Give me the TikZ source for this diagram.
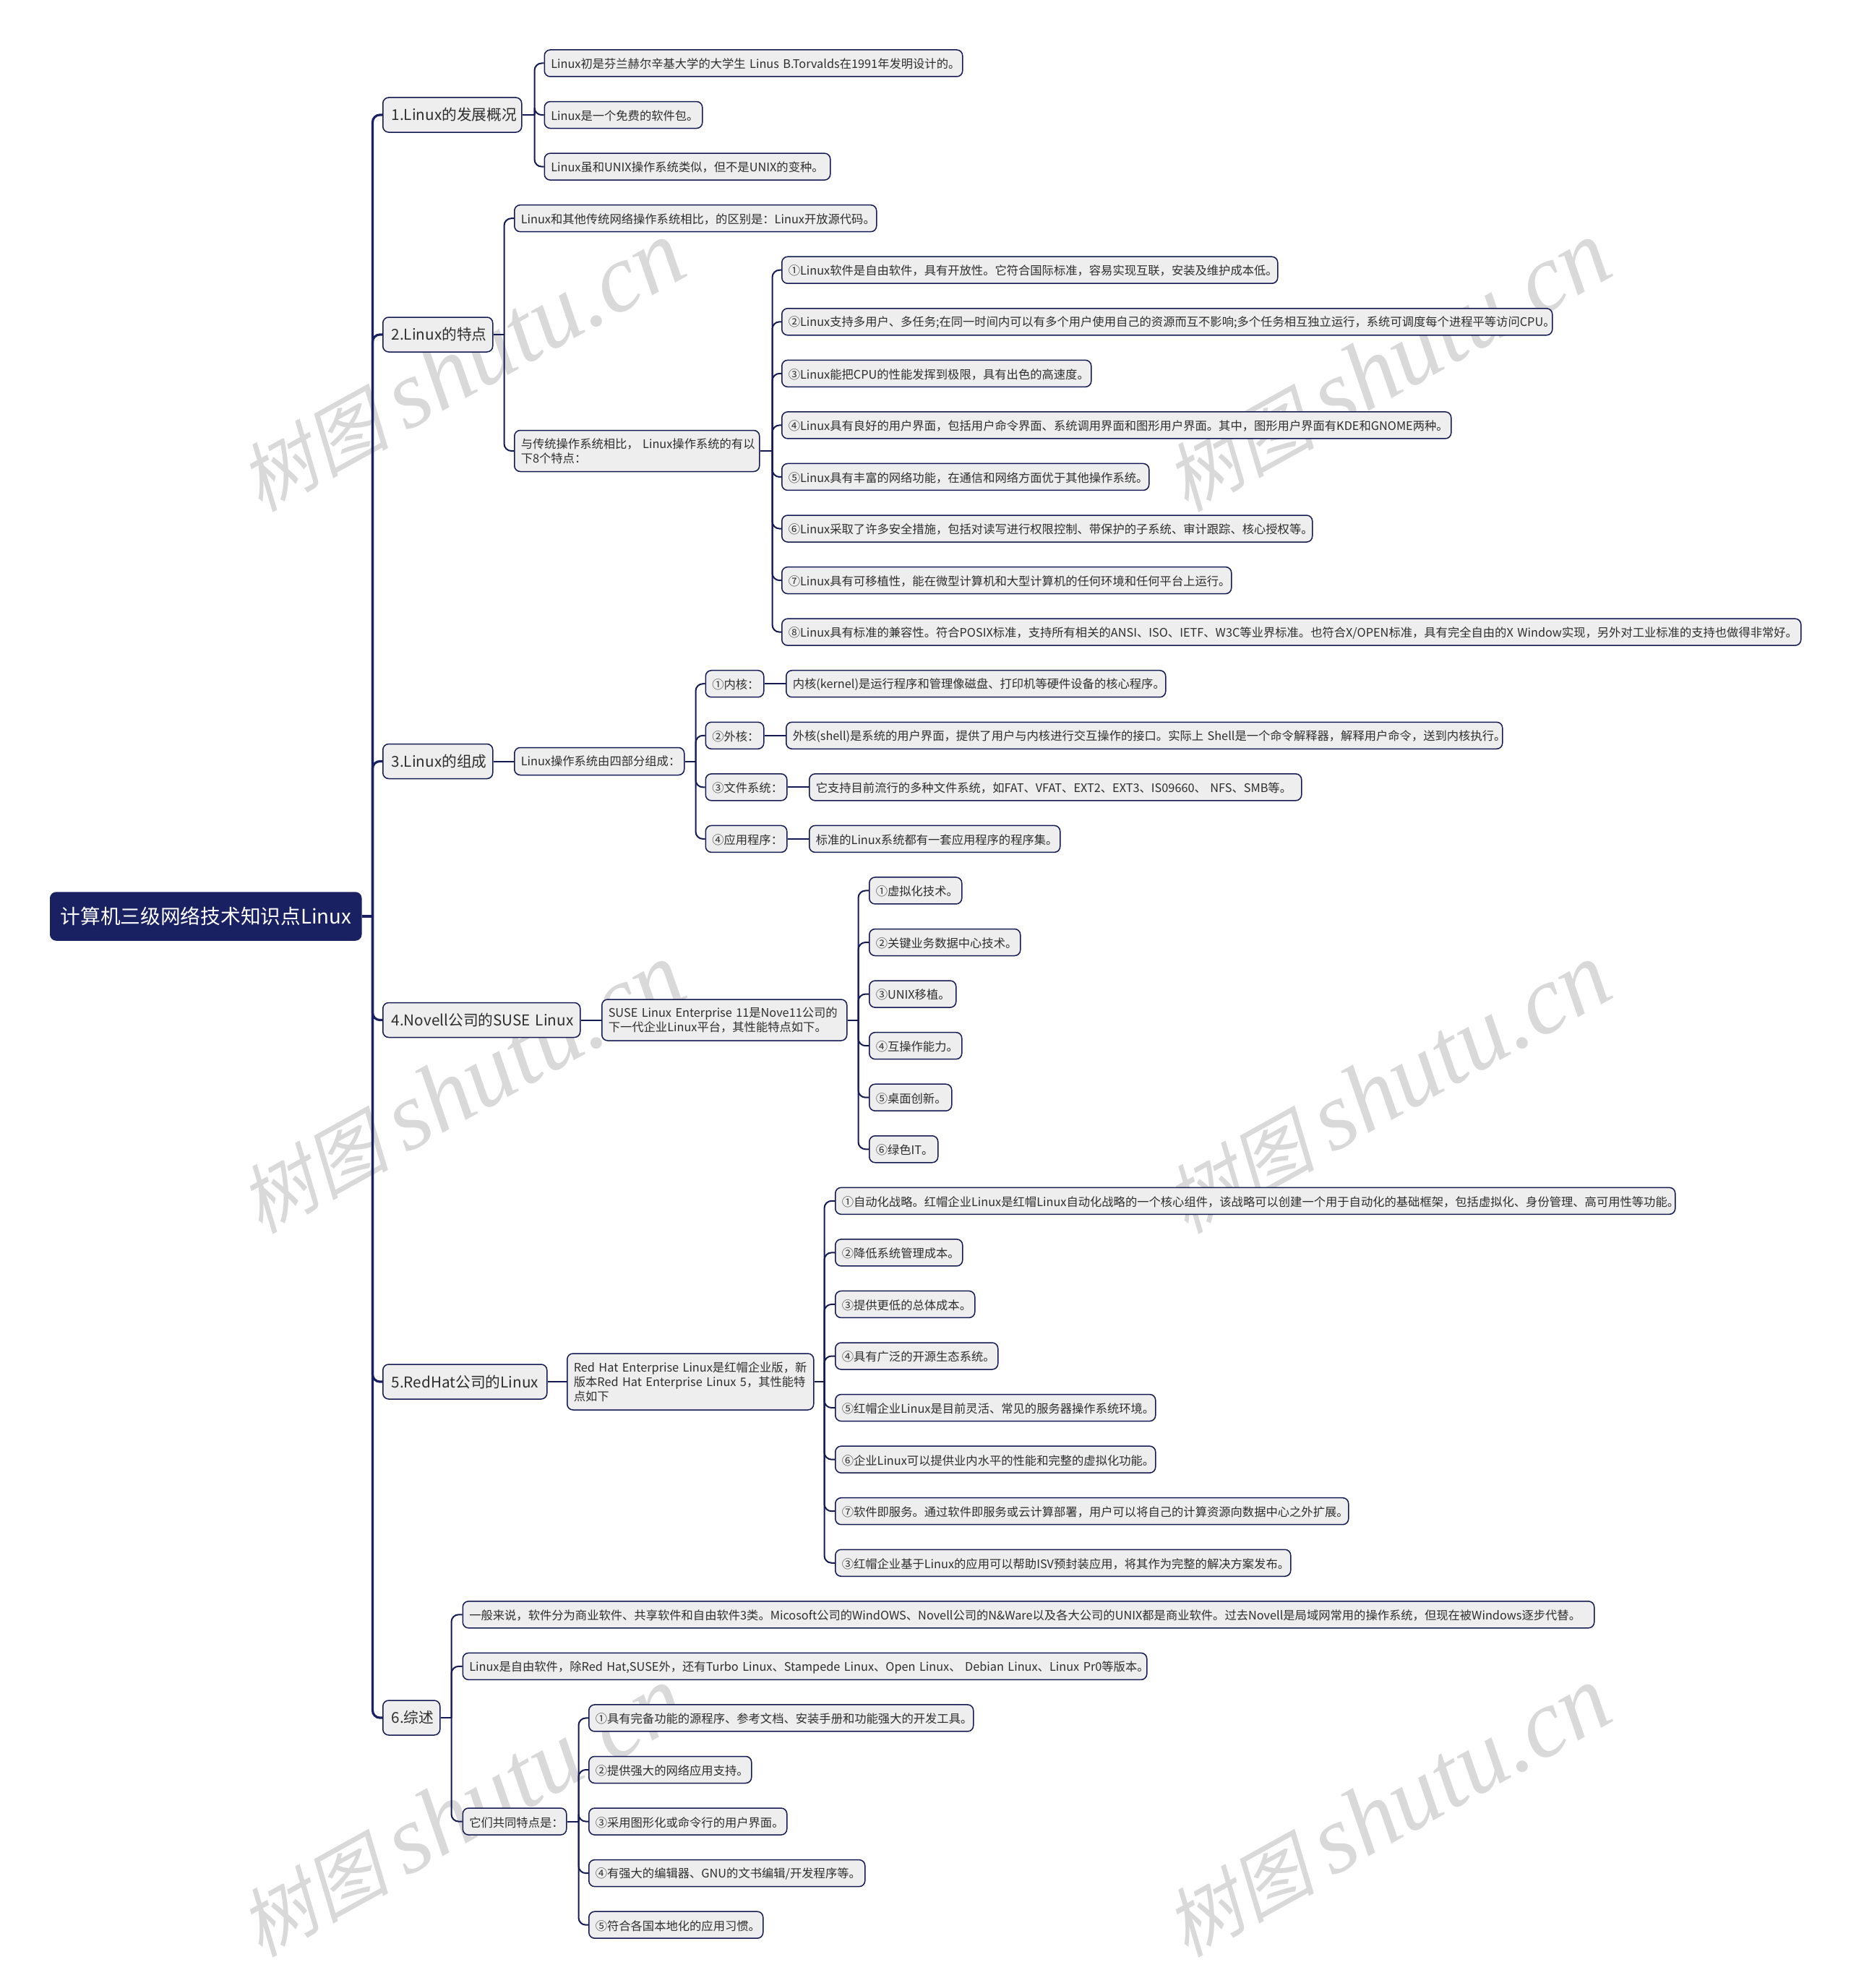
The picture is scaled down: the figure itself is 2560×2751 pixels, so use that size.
\documentclass[tikz,border=0pt]{standalone}
\usepackage{fontspec}
\setmainfont{Noto Sans CJK SC}
\newfontfamily\wmcjk[FakeSlant=0.22]{Noto Sans CJK SC}
\newfontfamily\wmlat{Liberation Serif}[ItalicFont=* Italic]
\definecolor{navy}{HTML}{1A2163}
\definecolor{linedark}{HTML}{141A52}
\definecolor{boxfill}{HTML}{EEEEEE}
\definecolor{inktext}{HTML}{2E2E2E}
\definecolor{wmgray}{HTML}{D9D9D9}
\tikzset{
  basebox/.style={draw=linedark,fill=boxfill,rounded corners=4pt,line width=0.75pt,text=inktext,inner ysep=0pt,align=left,anchor=west},
  leafbox/.style={basebox,font=\fontsize{8.15}{10}\selectfont},
  topicbox/.style={basebox,font=\fontsize{10.35}{13}\selectfont},
  rootbox/.style={basebox,draw=navy,fill=navy,text=white,font=\fontsize{13.85}{16}\selectfont},
  conn/.style={draw=linedark,line width=1pt},
  trunk/.style={draw=navy,line width=1.6pt},
  wmark/.style={text=wmgray,rotate=29,anchor=center,inner sep=0pt}
}
% \bx[pad]{style}{name}{xl}{xr}{yc}{height}{text}
\newcommand\bx[8][9]{%
  \pgfmathsetmacro\bxw{(#5-#4)*0.5}%
  \pgfmathsetmacro\bxt{(#5-#4-2*#1)*0.5}%
  \pgfmathsetmacro\bxh{#7*0.5}%
  \pgfmathsetmacro\bxy{#6}%
  \node[#2,minimum width=\bxw pt,minimum height=\bxh pt,text width=\bxt pt,inner xsep=#1*0.5pt] (#3) at (#4,\bxy) {#8};}
% row centre
\newcommand\ry[1]{87.5+71.56*#1}
\newcommand\lf[5]{\bx{leafbox}{#1}{#2}{#3}{\ry{#4}}{37}{\mbox{\raisebox{-0.6pt}[\height][\depth]{#5}}}}
% \fork[style]{parent}{gap}{children}
\newcommand\fork[4][conn]{%
  \coordinate (#2-sp) at ([xshift=#3*0.5pt]#2.east);
  \draw[#1] (#2.east) -- (#2-sp);
  \foreach \c in {#4}{\draw[#1,rounded corners=5pt] (#2-sp) |- (\c.west);}}
\begin{document}
\begin{tikzpicture}[x=0.5pt,y=-0.5pt]
\useasboundingbox (0,0) rectangle (2560,2751);
% watermarks, behind everything
\foreach \wx/\wy/\wn in {638/507/w1,1919/507/w2,638/1506/w3,1919/1506/w4,638/2507/w5,1919/2507/w6}{
  \node[wmark] (\wn) at (\wx,\wy) {\fontsize{52}{60}\selectfont{\wmcjk 树图} {\wmlat\fontsize{67}{70}\selectfont\itshape shutu.cn}};
}
% root and topics
\bx[14]{rootbox}{root}{69}{499}{1268}{66}{\mbox{计算机三级网络技术知识点Linux}}
\bx[12]{topicbox}{t1}{529}{721}{159}{48}{\mbox{1.Linux的发展概况}}
\bx[12]{topicbox}{t2}{529}{681}{463}{48}{\mbox{2.Linux的特点}}
\bx[12]{topicbox}{t3}{529}{681}{1053.5}{48}{\mbox{3.Linux的组成}}
\bx[12]{topicbox}{t4}{529}{802}{1411.5}{48}{\mbox{4.Novell公司的SUSE Linux}}
\bx[12]{topicbox}{t5}{529}{756}{1912}{48}{\mbox{5.RedHat公司的Linux}}
\bx[12]{topicbox}{t6}{529}{608}{2377}{48}{\mbox{6.综述}}
% section 1
\lf{a1}{752.5}{1331}{0}{Linux初是芬兰赫尔辛基大学的大学生 Linus B.Torvalds在1991年发明设计的。}
\lf{a2}{752.5}{971}{1}{Linux是一个免费的软件包。}
\lf{a3}{752.5}{1148}{2}{Linux虽和UNIX操作系统类似，但不是UNIX的变种。}
% section 2
\lf{b1}{711}{1212}{3}{Linux和其他传统网络操作系统相比，的区别是：Linux开放源代码。}
\bx{leafbox}{b2}{711}{1050}{624}{57}{\mbox{与传统操作系统相比， Linux操作系统的有以}\\\mbox{下8个特点：}}
\lf{c1}{1081}{1767}{4}{①Linux软件是自由软件，具有开放性。它符合国际标准，容易实现互联，安装及维护成本低。}
\lf{c2}{1081}{2147}{5}{②Linux支持多用户、多任务;在同一时间内可以有多个用户使用自己的资源而互不影响;多个任务相互独立运行，系统可调度每个进程平等访问CPU。}
\lf{c3}{1081}{1509}{6}{③Linux能把CPU的性能发挥到极限，具有出色的高速度。}
\lf{c4}{1081}{2007}{7}{④Linux具有良好的用户界面，包括用户命令界面、系统调用界面和图形用户界面。其中，图形用户界面有KDE和GNOME两种。}
\lf{c5}{1081}{1589}{8}{⑤Linux具有丰富的网络功能，在通信和网络方面优于其他操作系统。}
\lf{c6}{1081}{1815}{9}{⑥Linux采取了许多安全措施，包括对读写进行权限控制、带保护的子系统、审计跟踪、核心授权等。}
\lf{c7}{1081}{1703}{10}{⑦Linux具有可移植性，能在微型计算机和大型计算机的任何环境和任何平台上运行。}
\lf{c8}{1081}{2491}{11}{⑧Linux具有标准的兼容性。符合POSIX标准，支持所有相关的ANSI、ISO、IETF、W3C等业界标准。也符合X/OPEN标准，具有完全自由的X Window实现，另外对工业标准的支持也做得非常好。}
% section 3
\bx{leafbox}{d0}{711}{946}{1053.5}{38}{\mbox{Linux操作系统由四部分组成：}}
\lf{d1}{975.5}{1056}{12}{①内核：}
\lf{d2}{975.5}{1056}{13}{②外核：}
\lf{d3}{975.5}{1088}{14}{③文件系统：}
\lf{d4}{975.5}{1088}{15}{④应用程序：}
\lf{e1}{1087}{1612}{12}{内核(kernel)是运行程序和管理像磁盘、打印机等硬件设备的核心程序。}
\lf{e2}{1087}{2078}{13}{外核(shell)是系统的用户界面，提供了用户与内核进行交互操作的接口。实际上 Shell是一个命令解释器，解释用户命令，送到内核执行。}
\lf{e3}{1119}{1800}{14}{它支持目前流行的多种文件系统，如FAT、VFAT、EXT2、EXT3、IS09660、 NFS、SMB等。}
\lf{e4}{1119}{1466}{15}{标准的Linux系统都有一套应用程序的程序集。}
% section 4
\bx{leafbox}{f0}{832}{1171}{1411.5}{57}{\mbox{SUSE Linux Enterprise 11是Nove11公司的}\\\mbox{下一代企业Linux平台，其性能特点如下。}}
\lf{f1}{1202}{1330}{16}{①虚拟化技术。}
\lf{f2}{1202}{1411}{17}{②关键业务数据中心技术。}
\lf{f3}{1202}{1322}{18}{③UNIX移植。}
\lf{f4}{1202}{1330}{19}{④互操作能力。}
\lf{f5}{1202}{1316}{20}{⑤桌面创新。}
\lf{f6}{1202}{1297}{21}{⑥绿色IT。}
% section 5
\bx{leafbox}{g0}{784}{1125}{1912}{78}{\mbox{Red Hat Enterprise Linux是红帽企业版，新}\\\mbox{版本Red Hat Enterprise Linux 5，其性能特}\\\mbox{点如下}}
\lf{g1}{1155}{2317}{22}{①自动化战略。红帽企业Linux是红帽Linux自动化战略的一个核心组件，该战略可以创建一个用于自动化的基础框架，包括虚拟化、身份管理、高可用性等功能。}
\lf{g2}{1155}{1331}{23}{②降低系统管理成本。}
\lf{g3}{1155}{1348}{24}{③提供更低的总体成本。}
\lf{g4}{1155}{1380}{25}{④具有广泛的开源生态系统。}
\lf{g5}{1155}{1598}{26}{⑤红帽企业Linux是目前灵活、常见的服务器操作系统环境。}
\lf{g6}{1155}{1598}{27}{⑥企业Linux可以提供业内水平的性能和完整的虚拟化功能。}
\lf{g7}{1155}{1865}{28}{⑦软件即服务。通过软件即服务或云计算部署，用户可以将自己的计算资源向数据中心之外扩展。}
\lf{g8}{1155}{1785}{29}{③红帽企业基于Linux的应用可以帮助ISV预封装应用，将其作为完整的解决方案发布。}
% section 6
\lf{h1}{639.5}{2205}{30}{一般来说，软件分为商业软件、共享软件和自由软件3类。Micosoft公司的WindOWS、Novell公司的N\&Ware以及各大公司的UNIX都是商业软件。过去Novell是局域网常用的操作系统，但现在被Windows逐步代替。}
\lf{h2}{639.5}{1586}{31}{Linux是自由软件，除Red Hat,SUSE外，还有Turbo Linux、Stampede Linux、Open Linux、 Debian Linux、Linux Pr0等版本。}
\lf{h3}{639.5}{783}{34}{它们共同特点是：}
\lf{i1}{814}{1346}{32}{①具有完备功能的源程序、参考文档、安装手册和功能强大的开发工具。}
\lf{i2}{814}{1039}{33}{②提供强大的网络应用支持。}
\lf{i3}{814}{1088}{34}{③采用图形化或命令行的用户界面。}
\lf{i4}{814}{1196}{35}{④有强大的编辑器、GNU的文书编辑/开发程序等。}
\lf{i5}{814}{1055}{36}{⑤符合各国本地化的应用习惯。}
% connectors
\fork[trunk]{root}{15}{t1,t2,t3,t4,t5,t6}
\fork{t1}{17}{a1,a2,a3}
\fork{t2}{15}{b1,b2}
\fork{b2}{17}{c1,c2,c3,c4,c5,c6,c7,c8}
\draw[conn] (t3.east) -- (d0.west);
\fork{d0}{15}{d1,d2,d3,d4}
\draw[conn] (d1.east) -- (e1.west);
\draw[conn] (d2.east) -- (e2.west);
\draw[conn] (d3.east) -- (e3.west);
\draw[conn] (d4.east) -- (e4.west);
\draw[conn] (t4.east) -- (f0.west);
\fork{f0}{15}{f1,f2,f3,f4,f5,f6}
\draw[conn] (t5.east) -- (g0.west);
\fork{g0}{14}{g1,g2,g3,g4,g5,g6,g7,g8}
\fork{t6}{15}{h1,h2,h3}
\fork{h3}{16}{i1,i2,i3,i4,i5}
\end{tikzpicture}
\end{document}
